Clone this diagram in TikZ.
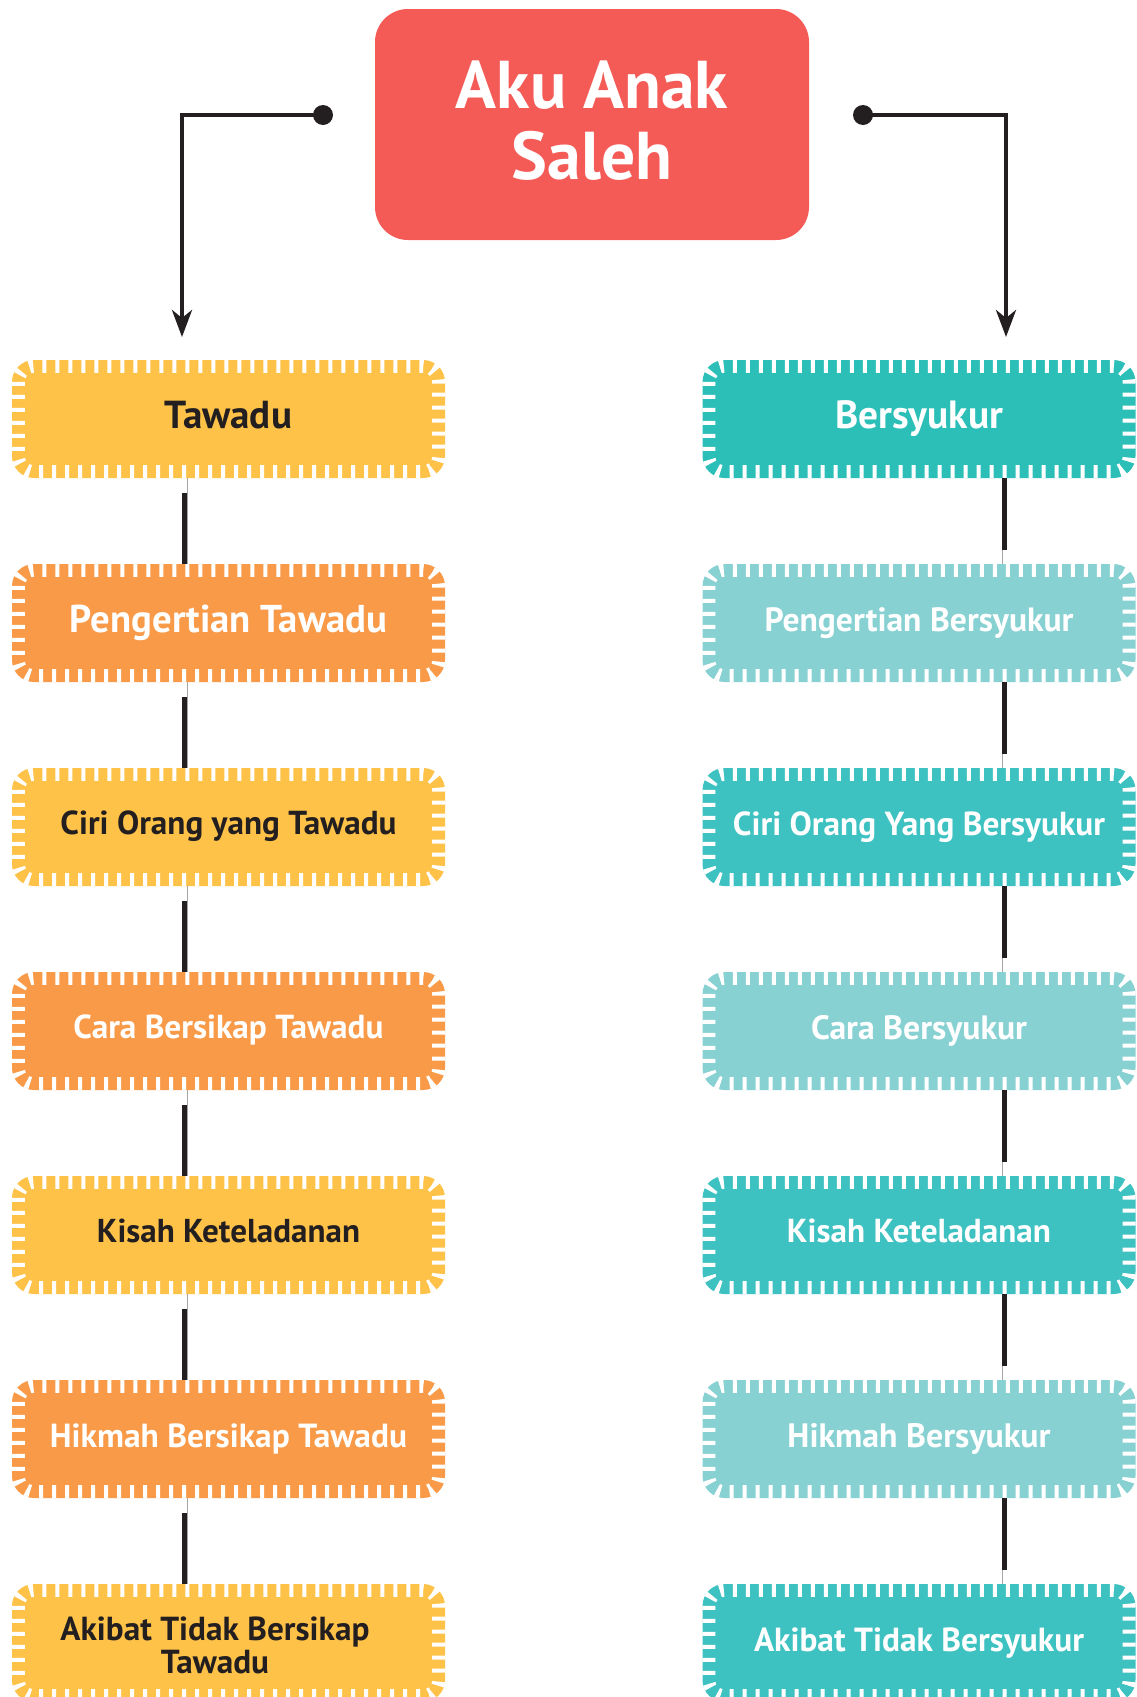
\documentclass[tikz,border=0pt]{standalone}
\usepackage{fontspec}
\setmainfont{PT Sans}
\usepackage{graphicx}
\usetikzlibrary{arrows.meta,calc}
\definecolor{titlered}{HTML}{F45B57}
\definecolor{tyellow}{HTML}{FEC248}
\definecolor{torange}{HTML}{F99A48}
\definecolor{tteal}{HTML}{2BBFB8}
\definecolor{tteal2}{HTML}{3EC1C1}
\definecolor{tlight}{HTML}{88D1D2}
\definecolor{tdark}{HTML}{231F20}
\newcommand\fitw[3][24]{\resizebox{#2pt}{!}{\fontsize{20}{#1}\selectfont\bfseries\begin{tabular}{@{}c@{}}#3\end{tabular}}}
\newcommand\tickit[1]{\draw[ticks] ([shift={(6.5,6.5)}]#1.north west) rectangle ([shift={(-6.5,-6.5)}]#1.south east);}
\tikzset{
  box/.style={rectangle, rounded corners=22pt, minimum width=433pt, minimum height=118pt, inner sep=0pt, text=white},
  ticks/.style={draw=white, line width=13pt, dash pattern=on 4pt off 9pt, rounded corners=15.5pt},
  titlebox/.style={rectangle, rounded corners=33pt, fill=titlered, minimum width=434pt, minimum height=231pt, inner sep=0pt},
  arr/.style={line width=4pt, draw=tdark, -{Stealth[length=27pt,width=20pt,inset=8pt]}},
  conn/.style={line width=5pt, draw=tdark},
  thinconn/.style={line width=1pt, draw=gray!70},
}
\begin{document}
\begin{tikzpicture}[x=1pt,y=-1pt]
\useasboundingbox (0,0) rectangle (1137,1697);
% title
\node[titlebox] (T) at (592,124.5) {};
\node[text=white, inner sep=0pt] (TT) at (592,130) {\fitw[21]{272}{Aku Anak\\Saleh}};
% left column
\node[box, fill=tyellow, text=tdark] (L0) at (228.5,419) {\fitw{127}{Tawadu}};
\node[box, fill=torange] (L1) at (228.5,623) {\fitw{317}{Pengertian Tawadu}};
\node[box, fill=tyellow, text=tdark] (L2) at (228.5,827) {\fitw{336}{Ciri Orang yang Tawadu}};
\node[box, fill=torange] (L3) at (228.5,1031) {\fitw{310}{Cara Bersikap Tawadu}};
\node[box, fill=tyellow, text=tdark] (L4) at (228.5,1235) {\fitw{263}{Kisah Keteladanan}};
\node[box, fill=torange] (L5) at (228.5,1439) {\fitw{357}{Hikmah Bersikap Tawadu}};
\node[box, fill=tyellow] (L6) at (228.5,1643) {};
\node[text=tdark, inner sep=0pt] (L6t) at (215,1650) {\fitw[19]{309}{Akibat Tidak Bersikap\\Tawadu}};
% right column
\node[box, fill=tteal] (R0) at (919,419) {\fitw{168}{Bersyukur}};
\node[box, fill=tlight] (R1) at (919,623) {\fitw{309}{Pengertian Bersyukur}};
\node[box, fill=tteal2] (R2) at (919,827) {\fitw{372}{Ciri Orang Yang Bersyukur}};
\node[box, fill=tlight] (R3) at (919,1031) {\fitw{216}{Cara Bersyukur}};
\node[box, fill=tteal2] (R4) at (919,1235) {\fitw{264}{Kisah Keteladanan}};
\node[box, fill=tlight] (R5) at (919,1439) {\fitw{263}{Hikmah Bersyukur}};
\node[box, fill=tteal2] (R6) at (919,1643) {\fitw{330}{Akibat Tidak Bersyukur}};
\foreach \n in {L0,L1,L2,L3,L4,L5,L6,R0,R1,R2,R3,R4,R5,R6}{\tickit{\n}}
% arrows from title
\coordinate (dl) at (323,115);
\coordinate (al) at (182,337);
\coordinate (dr) at (863,115);
\coordinate (ar) at (1006,337);
\draw[arr] (dl) -| (al);
\draw[arr] (dr) -| (ar);
\fill[tdark] (dl) circle[radius=10];
\fill[tdark] (dr) circle[radius=10];
% connectors
\coordinate (lx) at (184.5,0);
\coordinate (lxt) at (187,0);
\coordinate (rx) at (1004.5,0);
\coordinate (rxt) at (1002,0);
\foreach \a/\b in {L0/L1,L1/L2,L2/L3,L3/L4,L4/L5,L5/L6}{
  \draw[thinconn] (\a.south -| lxt) -- (\b.north -| lxt);
  \draw[conn] ($(\a.south -| lx)+(0,15)$) -- (\b.north -| lx);
}
\foreach \a/\b in {R0/R1,R1/R2,R2/R3,R3/R4,R4/R5,R5/R6}{
  \draw[thinconn] (\a.south -| rxt) -- (\b.north -| rxt);
  \draw[conn] (\a.south -| rx) -- ($(\b.north -| rx)+(0,-14)$);
}
\end{tikzpicture}
\end{document}
